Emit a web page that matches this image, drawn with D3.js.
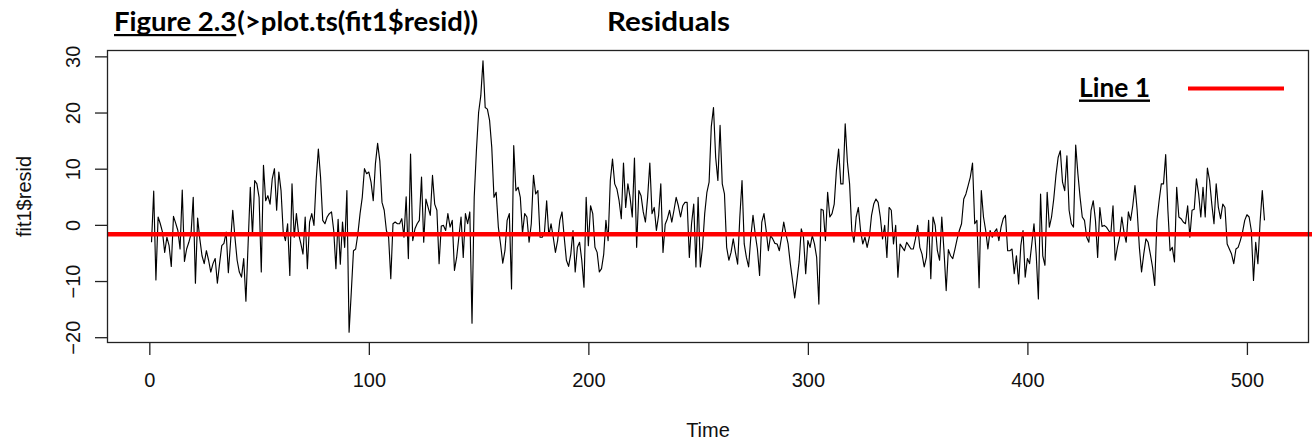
<!DOCTYPE html>
<html>
<head>
<meta charset="utf-8">
<script src="https://cdn.jsdelivr.net/npm/d3@7"></script>
<style>
  html, body { margin: 0; padding: 0; background: #fff; }
  svg { display: block; }
</style>
</head>
<body>
<svg id="chart" width="1312" height="440"></svg>
<script>
// ---- data ----
const resid = [
-3.1,6.0,-9.8,1.4,0.2,-1.3,-4.9,-2.2,-3.7,-7.4,
1.5,0.3,-1.0,-4.3,6.2,-6.5,-4.3,-3.1,-1.6,4.9,
-10.4,1.2,-2.5,-5.5,-6.9,-4.6,-6.3,-8.4,-6.9,-6.0,
-10.4,-6.9,-3.7,-3.3,-1.3,-8.5,-3.1,2.6,-2.2,-6.3,
-8.4,-9.3,-6.0,-13.6,-3.4,6.7,-1.9,7.9,7.3,4.9,
-8.4,10.6,4.3,5.2,3.7,8.2,10.0,2.6,9.4,6.1,
-1.3,-2.8,0.2,-9.0,7.3,-2.2,2.0,-1.6,-3.3,-5.2,
1.4,-7.8,0.5,2.0,-0.1,7.9,13.5,8.5,0.8,0.2,
1.4,2.0,2.3,-1.0,-7.8,1.0,-7.0,0.5,-4.0,6.1,
-19.1,-12.0,-4.6,-4.3,-1.6,2.0,4.9,10.0,9.1,9.4,
7.6,4.3,10.9,14.5,11.4,4.0,2.6,-1.0,-2.2,-9.6,
0.2,0.5,0.2,0.2,1.1,-2.2,5.0,-6.0,12.6,-2.8,
-0.7,0.2,0.8,8.5,-3.1,4.6,3.1,1.7,8.8,3.7,
2.6,-6.9,-0.2,-0.1,-1.0,2.0,-0.4,0.8,-8.1,-5.8,
-2.2,1.4,-5.8,2.0,0.2,2.3,-17.5,4.9,13.2,20.0,
23.0,29.2,20.9,20.6,18.6,13.8,4.9,5.8,-0.4,-3.4,
-6.8,-4.6,0.8,2.0,-11.4,14.1,6.1,6.7,4.9,-1.5,
2.0,1.4,-3.1,0.2,8.8,5.5,6.1,-2.2,-2.2,-1.3,
4.3,-1.9,0.2,-2.2,-4.9,-2.8,0.8,2.3,-2.2,-6.3,
-7.4,-5.2,-1.0,-8.4,-4.0,-3.1,-6.3,-11.1,4.9,-3.7,
3.4,2.0,-4.0,-4.9,-8.4,-7.8,-5.2,0.8,-2.8,7.9,
11.7,7.3,6.4,4.3,1.1,11.0,3.1,7.3,4.9,1.4,
11.9,-4.0,6.1,5.2,2.3,0.5,4.9,11.0,2.0,3.1,
-1.0,1.7,7.3,-4.9,0.1,1.1,2.6,0.5,2.6,4.9,
3.4,1.4,3.4,4.0,4.0,-5.8,0.2,3.7,-7.5,4.9,
-7.5,-4.0,2.0,5.8,7.6,17.5,20.9,12.0,7.9,17.7,
7.3,5.5,-4.0,-6.3,-4.9,-2.5,-4.9,-7.0,1.4,7.9,
-3.4,-5.8,-7.5,-2.2,1.7,-1.6,-4.3,-9.0,0.5,2.0,
-1.0,-4.6,-1.9,-2.5,-3.3,-3.4,-4.6,-2.2,0.5,-1.6,
-3.4,-6.9,-9.9,-13.0,-9.9,-6.6,-0.7,-2.2,-8.7,-2.8,
-4.0,-1.9,-3.4,-5.8,-14.1,2.8,2.6,-2.8,5.8,1.4,
2.0,3.7,9.7,13.5,7.3,7.3,18.0,11.2,7.3,-1.0,
-3.1,1.4,3.1,-1.0,-3.4,-2.2,-4.0,-2.2,1.7,3.7,
4.6,4.0,1.4,-2.5,-0.1,-5.8,3.1,2.6,-3.4,-0.1,
-9.3,-3.4,-4.0,-4.6,-3.1,-3.7,-4.3,-4.3,-2.5,-0.1,
-4.0,-5.2,-7.5,-5.8,0.8,-9.6,1.4,-0.1,-4.6,-6.3,
1.4,-4.6,-11.7,-4.4,-5.5,-6.0,-4.3,-2.5,-1.0,0.2,
4.6,5.5,7.0,8.5,11.0,0.2,0.8,-11.2,6.1,1.4,
-1.0,-4.3,-1.0,-2.2,-1.3,-0.7,-2.8,-0.4,1.1,1.7,
-4.6,-4.6,-4.3,-8.7,-5.5,-10.5,-3.7,-1.0,-9.3,-6.0,
-6.9,-3.4,0.2,-5.2,-13.2,5.5,-5.5,-7.2,5.8,-0.4,
1.4,4.6,8.8,12.0,13.2,7.6,6.1,12.3,2.6,0.2,
-0.4,14.2,9.1,4.9,1.4,0.8,-2.2,-3.1,2.6,4.3,
0.8,-5.8,3.1,-0.3,-0.1,-0.4,-1.0,-1.6,3.4,-6.3,
-4.0,-2.2,1.4,-1.3,-3.1,2.3,0.8,3.4,7.0,2.6,
-4.0,-8.4,-5.2,-2.5,-3.1,-5.2,-7.5,-10.8,0.8,4.3,
7.3,7.3,12.5,2.6,-4.6,-4.0,-6.6,6.7,1.4,1.1,
0.5,0.2,3.4,-2.2,2.6,2.8,8.2,5.5,1.4,6.7,
1.4,10.1,7.9,3.7,0.2,7.3,3.1,1.1,3.7,3.1,
-3.4,-4.3,-5.2,-6.9,-4.3,-4.0,-2.8,-1.3,0.8,1.8,
1.4,-1.0,-9.9,-3.1,-6.9,0.5,6.1,0.8
];
const xTickValues = [0, 100, 200, 300, 400, 500];
const yTickValues = [-20, -10, 0, 10, 20, 30];
const refLineValue = -1.67;
const titleUnderlined = "Figure 2.3";
const titleRest = "(>plot.ts(fit1$resid))";
const titleRight = "Residuals";
const legendLabel = "Line 1";
const xLabel = "Time";
const yLabel = "fit1$resid";

// ---- layout ----
const W = 1312, H = 440;
const plot = { left: 107, right: 1309, top: 50, bottom: 343 };
const axisFont = "'Liberation Sans', Arial, sans-serif";
const titleFont = "Lato, 'Open Sans', sans-serif";

const svg = d3.select("#chart");
svg.append("rect").attr("width", W).attr("height", H).attr("fill", "#fff");

const n = resid.length;
const series = resid.map((v, i) => ({ t: i + 1, v }));

// R-style 4% axis extension
const xPad = (n - 1) * 0.04;
const x = d3.scaleLinear().domain([1 - xPad, n + xPad]).range([plot.left, plot.right]);
const [ymin, ymax] = d3.extent(resid);
const yPad = (ymax - ymin) * 0.04;
const y = d3.scaleLinear().domain([ymin - yPad, ymax + yPad]).range([plot.bottom, plot.top]);

svg.append("clipPath").attr("id", "clip").append("rect")
  .attr("x", plot.left).attr("y", plot.top)
  .attr("width", plot.right - plot.left).attr("height", plot.bottom - plot.top);

// series line
const line = d3.line().x(d => x(d.t)).y(d => y(d.v));
svg.append("path").datum(series)
  .attr("d", line)
  .attr("fill", "none").attr("stroke", "#000").attr("stroke-width", 1.15)
  .attr("stroke-linejoin", "round")
  .attr("clip-path", "url(#clip)");

// red horizontal reference line
svg.append("line")
  .attr("x1", plot.left).attr("x2", W)
  .attr("y1", y(refLineValue)).attr("y2", y(refLineValue))
  .attr("stroke", "#ff0000").attr("stroke-width", 4.5);

// box
svg.append("rect")
  .attr("x", plot.left + 0.5).attr("y", plot.top + 0.5)
  .attr("width", plot.right - plot.left - 1).attr("height", plot.bottom - plot.top - 1)
  .attr("fill", "none").attr("stroke", "#222").attr("stroke-width", 1.3);

// x axis
const gx = svg.append("g").attr("transform", `translate(0,${plot.bottom})`)
  .call(d3.axisBottom(x).tickValues(xTickValues).tickSize(12).tickPadding(18).tickFormat(d3.format("d")));
gx.select(".domain").remove();
gx.selectAll("line").attr("stroke", "#222").attr("stroke-width", 1.3);
gx.selectAll("text").attr("font-family", axisFont).attr("font-size", 20).attr("fill", "#111");

// y axis
const gy = svg.append("g").attr("transform", `translate(${plot.left},0)`)
  .call(d3.axisLeft(y).tickValues(yTickValues).tickSize(12).tickFormat(d3.format("d")));
gy.select(".domain").remove();
gy.selectAll("line").attr("stroke", "#222").attr("stroke-width", 1.3);
gy.selectAll("text")
  .attr("font-family", axisFont).attr("font-size", 20).attr("fill", "#111")
  .attr("text-anchor", "middle").attr("x", 0).attr("dy", 0)
  .attr("transform", "translate(-27,0) rotate(-90)");

// axis titles
svg.append("text").text(xLabel)
  .attr("x", (plot.left + plot.right) / 2).attr("y", 437)
  .attr("text-anchor", "middle").attr("font-family", axisFont).attr("font-size", 20).attr("fill", "#111");
svg.append("text").text(yLabel)
  .attr("transform", `translate(31,${(plot.top + plot.bottom) / 2}) rotate(-90)`)
  .attr("text-anchor", "middle").attr("font-family", axisFont).attr("font-size", 20).attr("fill", "#111");

// titles (stretched to the reference widths)
function boldText(str, xPos, yPos, size) {
  return svg.append("text").attr("x", xPos).attr("y", yPos)
    .attr("font-family", titleFont).attr("font-weight", "bold").attr("font-size", size).attr("fill", "#000")
    .text(str);
}
const titleStart = 114, titleEnd = 478;
const ta = boldText(titleUnderlined, titleStart, 31, 27);
const tb = boldText(titleRest, 0, 31, 27);
const wa = ta.node().getComputedTextLength();
const wb = tb.node().getComputedTextLength();
const k = (titleEnd - titleStart) / (wa + wb + 1);
ta.attr("textLength", wa * k).attr("lengthAdjust", "spacingAndGlyphs");
tb.attr("x", titleStart + wa * k + 1).attr("textLength", wb * k).attr("lengthAdjust", "spacingAndGlyphs");
svg.append("rect").attr("x", titleStart).attr("y", 34).attr("width", wa * k).attr("height", 2.2).attr("fill", "#000");

const tr = boldText(titleRight, 607, 31, 27);
tr.attr("textLength", 123).attr("lengthAdjust", "spacingAndGlyphs");

// legend
const lg = boldText(legendLabel, 1079, 97, 26);
lg.attr("textLength", 71).attr("lengthAdjust", "spacingAndGlyphs");
svg.append("rect").attr("x", 1079).attr("y", 99.5).attr("width", 71).attr("height", 2.4).attr("fill", "#000");
svg.append("line").attr("x1", 1188).attr("x2", 1284).attr("y1", 88.5).attr("y2", 88.5)
  .attr("stroke", "#ff0000").attr("stroke-width", 4);
</script>
</body>
</html>
